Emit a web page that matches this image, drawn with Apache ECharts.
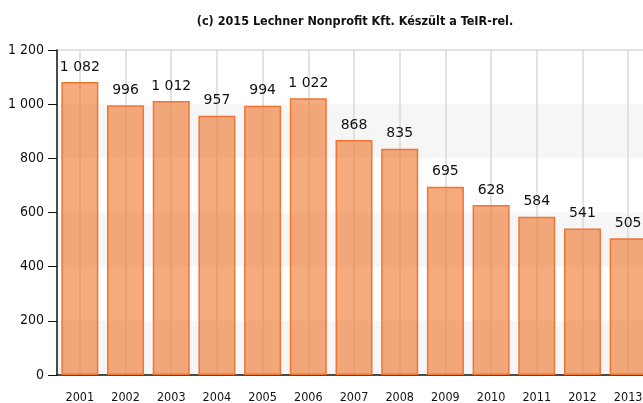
<!DOCTYPE html>
<html>
<head>
<meta charset="utf-8">
<script src="https://cdn.jsdelivr.net/npm/echarts@6/dist/echarts.min.js"></script>
<style>
  html, body { margin: 0; padding: 0; background: #fff; }
  #chart { width: 643px; height: 403px; }
</style>
</head>
<body>
<div id="chart"></div>
<script>
const years = ['2001','2002','2003','2004','2005','2006','2007','2008','2009','2010','2011','2012','2013'];
const counts = [1082, 996, 1012, 957, 994, 1022, 868, 835, 695, 628, 584, 541, 505];
const yTicks = [0, 200, 400, 600, 800, 1000, 1200];

// thousands separated by a space, as in Hungarian notation
function fmt(v) {
  return String(v).replace(/\B(?=(\d{3})+(?!\d))/g, ' ');
}

const chart = echarts.init(document.getElementById('chart'), null, { renderer: 'canvas' });

chart.setOption({
  animation: false,
  title: {
    text: '(c) 2015 Lechner Nonprofit Kft. Készült a TeIR-rel.',
    left: 350,
    top: 10,
    textAlign: 'center',
    textStyle: { fontFamily: 'DejaVu Sans Condensed', fontSize: 12.5, fontWeight: 'bold', color: '#111' }
  },
  // the plot runs a little past the right edge, so the last bar is clipped
  grid: { left: 57, top: 50, height: 325, width: 594, containLabel: false, outerBoundsMode: 'none' },
  xAxis: {
    type: 'category',
    data: years,
    boundaryGap: true,
    axisLine: { lineStyle: { color: '#111', width: 1.5 } },
    axisTick: { alignWithLabel: true, length: 7, lineStyle: { color: '#111' } },
    axisLabel: { fontFamily: 'DejaVu Sans Condensed', fontSize: 12.5, color: '#111', margin: 16 },
    splitLine: { show: true, alignWithLabel: true, lineStyle: { color: '#d9d9d9', width: 1.5 } }
  },
  yAxis: {
    type: 'value',
    min: yTicks[0],
    max: yTicks[yTicks.length - 1],
    interval: 200,
    axisLine: { show: true, lineStyle: { color: '#111', width: 1.5 } },
    axisTick: { show: true, length: 9, lineStyle: { color: '#111' } },
    axisLabel: { fontFamily: 'DejaVu Sans Condensed', fontSize: 14, color: '#111', margin: 13, formatter: fmt },
    splitLine: { show: true, lineStyle: { color: ['rgba(0,0,0,0)','rgba(0,0,0,0)','rgba(0,0,0,0)','rgba(0,0,0,0)','rgba(0,0,0,0)','rgba(0,0,0,0)','#d9d9d9'], width: 1.5 } },
    splitArea: { show: true, areaStyle: { color: ['#f6f6f6', '#ffffff'] } }
  },
  series: [{
    type: 'bar',
    data: counts,
    barWidth: 37,
    itemStyle: { color: 'rgba(240,115,40,0.6)', borderColor: '#f07432', borderWidth: 1.5 },
    label: {
      show: true,
      position: 'top',
      distance: 8,
      formatter: p => fmt(p.value),
      fontFamily: 'DejaVu Sans',
      fontSize: 14,
      color: '#111'
    }
  }]
});
</script>
</body>
</html>
